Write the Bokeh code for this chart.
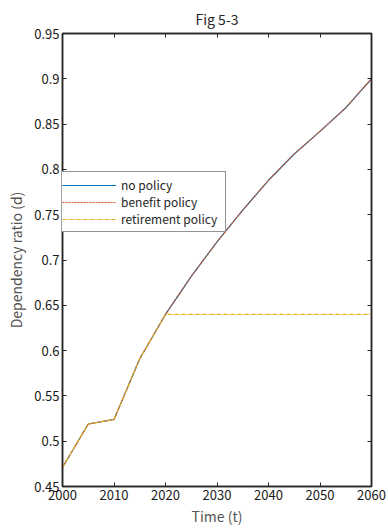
from bokeh.plotting import figure
from bokeh.models import (Range1d, FixedTicker, LinearAxis, Legend, LegendItem,
                          CustomJSTickFormatter)
from bokeh.embed import file_html
from bokeh.resources import INLINE

# Dependency ratio projections, 5-year steps
years = [2000, 2005, 2010, 2015, 2020, 2025, 2030, 2035, 2040, 2045, 2050, 2055, 2060]
no_policy = [0.471, 0.519, 0.524, 0.591, 0.640, 0.682, 0.720, 0.755, 0.788, 0.817, 0.842, 0.868, 0.900]
benefit_policy = [0.471, 0.519, 0.524, 0.591, 0.640, 0.682, 0.720, 0.755, 0.788, 0.817, 0.842, 0.868, 0.900]
retirement_policy = [0.471, 0.519, 0.524, 0.591, 0.640, 0.640, 0.640, 0.640, 0.640, 0.640, 0.640, 0.640, 0.640]

x_ticks = [2000, 2010, 2020, 2030, 2040, 2050, 2060]
y_ticks = [0.45, 0.5, 0.55, 0.6, 0.65, 0.7, 0.75, 0.8, 0.85, 0.9, 0.95]

FONT = "Noto Sans CJK JP"
DARK = "#262626"

p = figure(width=388, height=532, output_backend="svg", toolbar_location=None,
           x_range=Range1d(2000, 2060), y_range=Range1d(0.45, 0.95),
           min_border_left=62, min_border_right=17, min_border_top=33,
           min_border_bottom=46, x_axis_location=None, y_axis_location=None)
p.frame_width = 309
p.frame_height = 453
p.background_fill_color = "white"
p.border_fill_color = "white"
p.grid.visible = False
p.outline_line_color = DARK
p.outline_line_width = 1.5

p.title.text = "Fig 5-3"
p.title.align = "center"
p.title.text_font = FONT
p.title.text_font_style = "normal"
p.title.text_font_size = "14px"
p.title.text_color = DARK
p.title.offset = 0

fmt = CustomJSTickFormatter(code="return String(Number(tick.toFixed(2)));")
blank = CustomJSTickFormatter(code="return '';")

def style_axis(ax):
    ax.major_tick_in = 4
    ax.major_tick_out = 0
    ax.minor_tick_in = 0
    ax.minor_tick_out = 0
    ax.axis_line_color = DARK
    ax.axis_line_width = 1.5
    ax.major_tick_line_color = DARK
    ax.major_label_text_font = FONT
    ax.major_label_text_font_size = "13px"
    ax.major_label_text_color = "#1a1a1a"
    ax.axis_label_text_font = FONT
    ax.axis_label_text_font_size = "14px"
    ax.axis_label_text_font_style = "normal"
    ax.axis_label_text_color = "#555555"

xb = LinearAxis(ticker=FixedTicker(ticks=x_ticks), formatter=fmt, axis_label="Time (t)")
style_axis(xb)
xb.major_label_standoff = 3
xb.axis_label_standoff = 3
yl = LinearAxis(ticker=FixedTicker(ticks=y_ticks), formatter=fmt, axis_label="Dependency ratio (d)")
style_axis(yl)
yl.major_label_standoff = 3
yl.axis_label_standoff = 5
xa = LinearAxis(ticker=FixedTicker(ticks=x_ticks), formatter=blank)
style_axis(xa)
xa.major_label_standoff = 0
yr = LinearAxis(ticker=FixedTicker(ticks=y_ticks), formatter=blank)
style_axis(yr)
yr.major_label_standoff = 0
p.add_layout(xb, "below")
p.add_layout(yl, "left")
p.add_layout(xa, "above")
p.add_layout(yr, "right")

r1 = p.line(years, no_policy, line_color="#0072BD", line_width=1.2)
r2 = p.line(years, benefit_policy, line_color="#D95319", line_width=1.2, line_dash="2 1")
r3 = p.line(years, retirement_policy, line_color="#EDB120", line_width=1.2, line_dash="4 1 1 1")

legend = Legend(items=[LegendItem(label="no policy", renderers=[r1]),
                       LegendItem(label="benefit policy", renderers=[r2]),
                       LegendItem(label="retirement policy", renderers=[r3])],
                location=(-5, 254))
legend.label_text_font = FONT
legend.label_text_font_size = "12px"
legend.label_text_color = DARK
legend.glyph_width = 54
legend.glyph_height = 14
legend.label_height = 14
legend.label_width = 100
legend.spacing = 0
legend.padding = 4
legend.margin = 0
legend.label_standoff = 5
legend.border_line_color = DARK
legend.border_line_width = 1
legend.background_fill_color = "white"
legend.background_fill_alpha = 1
p.add_layout(legend, "center")

open("out.html", "w").write(file_html(p, INLINE))
